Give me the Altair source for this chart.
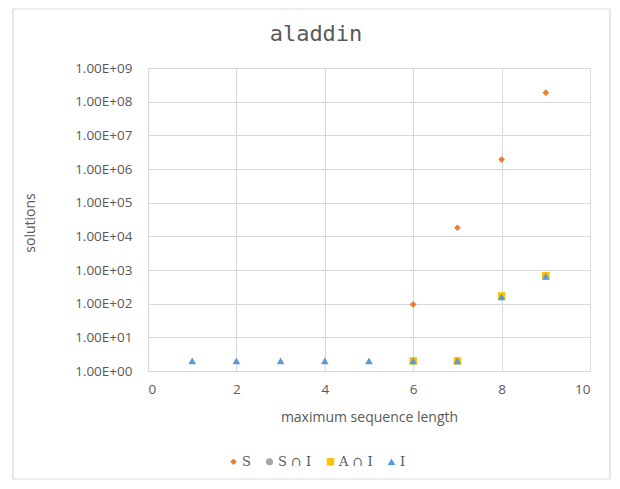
import altair as alt
import pandas as pd

# Data
series_names = ["S", "S ∩ I", "A ∩ I", "I"]
x_S = [6, 7, 8, 9]
y_S = [95, 18000, 1.9e6, 1.85e8]
x_SI = [6, 7, 8, 9]
y_SI = [2, 2, 160, 660]
x_AI = [6, 7, 8, 9]
y_AI = [2, 2, 170, 680]
x_I = [1, 2, 3, 4, 5, 6, 7, 8, 9]
y_I = [2, 2, 2, 2, 2, 2, 2, 160, 650]
colors = ["#ED7D31", "#A5A5A5", "#FFC000", "#5B9BD5"]
shapes = ["diamond", "circle", "square", "triangle-up"]
y_ticks = [1, 10, 100, 1e3, 1e4, 1e5, 1e6, 1e7, 1e8, 1e9]
x_ticks = [0, 2, 4, 6, 8, 10]
title_text = "aladdin"

rows = []
for name, xs, ys in zip(series_names, [x_S, x_SI, x_AI, x_I], [y_S, y_SI, y_AI, y_I]):
    for xv, yv in zip(xs, ys):
        rows.append({"series": name, "x": xv, "y": yv})
df = pd.DataFrame(rows)
df["ord"] = range(len(df))

W, H = 442, 303
PL, PT = 140, 60

points = alt.Chart(df).mark_point(filled=True, opacity=1).encode(
    x=alt.X("x:Q", scale=alt.Scale(domain=[0, 10], nice=False),
            axis=alt.Axis(values=x_ticks, title="maximum sequence length")),
    y=alt.Y("y:Q", scale=alt.Scale(type="log", domain=[1, 1e9], nice=False),
            axis=alt.Axis(values=y_ticks, title="solutions", titleX=-111, titleY=H / 2 + 3,
                          labelExpr="'1.00E+' + (round(log(datum.value)/LN10) < 10 ? '0' : '') + round(log(datum.value)/LN10)")),
    color=alt.Color("series:N", scale=alt.Scale(domain=series_names, range=colors),
                    legend=alt.Legend(title=None, orient="none", direction="horizontal",
                                      legendX=79, legendY=387, labelFont="DejaVu Serif",
                                      labelFontSize=13, labelColor="#595959", symbolSize=45,
                                      columnPadding=12, labelOffset=2)),
    shape=alt.Shape("series:N", scale=alt.Scale(domain=series_names, range=shapes)),
    size=alt.Size("series:N", scale=alt.Scale(domain=series_names, range=[45, 60, 75, 80]), legend=None),
    order=alt.Order("ord:Q"),
)

border = alt.Chart(pd.DataFrame({"a": [0]})).mark_rect(
    fill=None, stroke="#D9D9D9", strokeWidth=1.2
).encode(
    x=alt.value(13 - 8 - PL), x2=alt.value(610 - 8 - PL),
    y=alt.value(9 - 8 - PT), y2=alt.value(479 - 8 - PT),
)

title = alt.Chart(pd.DataFrame({"t": [title_text]})).mark_text(
    font="DejaVu Sans Mono", fontSize=22, color="#595959", baseline="middle", align="center"
).encode(text="t:N", x=alt.value(316 - 8 - PL), y=alt.value(34 - 8 - PT))

chart = alt.layer(border, title, points).properties(
    width=W, height=H,
    autosize=alt.AutoSizeParams(type="none"),
    padding={"left": PL, "top": PT, "right": 604 - PL - W, "bottom": 473 - PT - H},
).configure_view(stroke="#D9D9D9", strokeWidth=1).configure_axis(
    grid=True, gridColor="#D9D9D9", gridWidth=1, domain=False, ticks=False,
    labelFont="Open Sans", labelFontSize=13.5, labelColor="#595959",
    titleFont="Open Sans", titleFontSize=14, titleFontWeight="normal", titleColor="#595959",
).configure_axisY(labelPadding=16).configure_axisX(labelPadding=11, titlePadding=15)

chart.save("out.html", embed_options={"renderer": "svg", "actions": False})
